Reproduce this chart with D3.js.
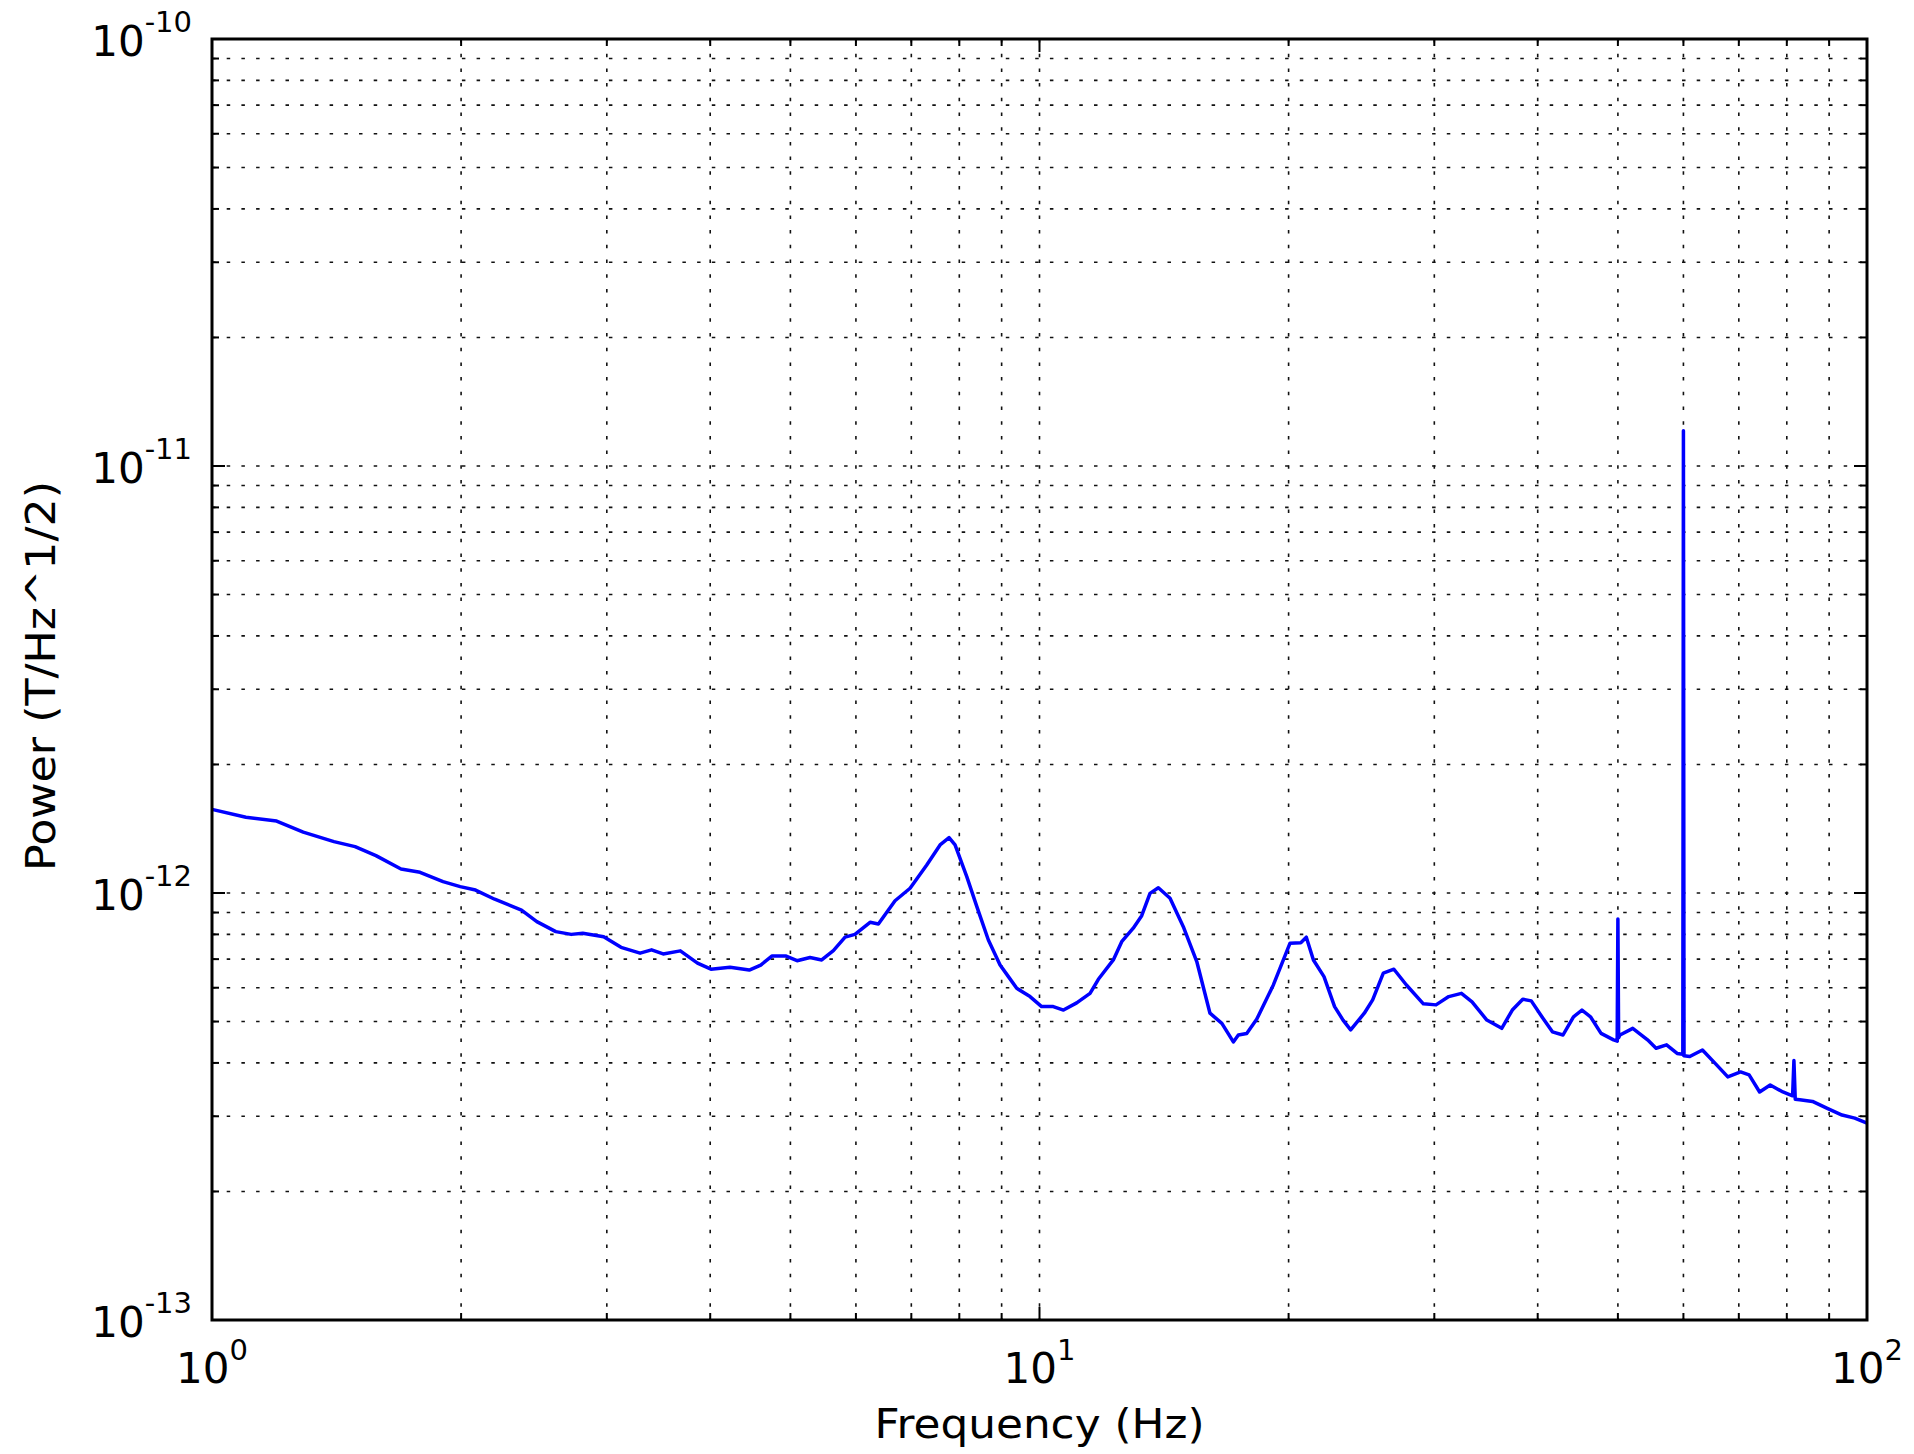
<!DOCTYPE html>
<html>
<head>
<meta charset="utf-8">
<script src="https://cdn.jsdelivr.net/npm/d3@7"></script>
<style>
  body { margin: 0; background: #fff; }
  text { font-family: 'DejaVu Sans', sans-serif; fill: #000; }
</style>
</head>
<body>
<svg id="chart" width="1914" height="1454"></svg>
<script>
// spectrum (Hz, T/Hz^1/2)
var freq = [
  1.000, 1.099, 1.197, 1.289, 1.404, 1.489, 1.578, 1.692, 1.784, 1.902,
  1.995, 2.082, 2.196, 2.366, 2.469, 2.603, 2.717, 2.806, 2.974, 3.121,
  3.291, 3.398, 3.509, 3.681, 3.861, 4.008, 4.227, 4.459, 4.604, 4.752,
  4.933, 5.093,
  5.281, 5.455, 5.635, 5.822, 5.984, 6.241, 6.387, 6.690, 6.976, 7.307,
  7.583, 7.775, 7.906, 8.168, 8.400, 8.674, 8.961, 9.171, 9.386, 9.740,
  10.06, 10.39, 10.69, 11.09, 11.51, 11.78, 12.28, 12.57, 12.98, 13.29,
  13.60, 13.92, 14.38, 14.92, 15.49, 16.07, 16.61, 17.15, 17.39, 17.80,
  18.30, 19.17, 20.08,
  20.69, 21.01, 21.43, 22.07, 22.73, 23.27, 23.77, 24.69, 25.27, 26.03,
  26.81, 27.76, 29.10, 30.14, 31.23, 32.35, 33.32, 34.72, 36.19, 37.27,
  38.37, 39.29, 40.47, 41.67, 42.92, 44.19, 45.24, 46.33, 47.71, 49.40,
  49.90, 50.00, 50.10, 50.29, 52.11, 54.30, 55.60, 57.25, 58.96, 59.90,
  60.00, 60.10, 61.07, 63.26, 65.54, 67.89, 70.35, 72.03, 74.17, 76.39,
  79.13, 81.30, 81.60, 81.90, 82.93, 85.93, 89.53, 93.29, 96.65, 100.0
];
var power = [
  1.570e-12, 1.504e-12, 1.474e-12, 1.389e-12, 1.319e-12, 1.284e-12, 1.223e-12, 1.138e-12, 1.118e-12, 1.063e-12,
  1.035e-12, 1.016e-12, 9.67e-13, 9.12e-13, 8.57e-13, 8.12e-13, 8.00e-13, 8.05e-13, 7.90e-13, 7.46e-13,
  7.23e-13, 7.36e-13, 7.20e-13, 7.32e-13, 6.85e-13, 6.63e-13, 6.70e-13, 6.60e-13, 6.78e-13, 7.12e-13,
  7.12e-13, 6.94e-13,
  7.06e-13, 6.97e-13, 7.33e-13, 7.88e-13, 8.00e-13, 8.54e-13, 8.46e-13, 9.59e-13, 1.026e-12, 1.163e-12,
  1.296e-12, 1.348e-12, 1.296e-12, 1.092e-12, 9.29e-13, 7.76e-13, 6.78e-13, 6.37e-13, 5.98e-13, 5.72e-13,
  5.42e-13, 5.42e-13, 5.32e-13, 5.53e-13, 5.82e-13, 6.28e-13, 6.97e-13, 7.69e-13, 8.27e-13, 8.85e-13,
  9.98e-13, 1.029e-12, 9.72e-13, 8.34e-13, 6.91e-13, 5.23e-13, 4.95e-13, 4.48e-13, 4.65e-13, 4.69e-13,
  5.06e-13, 6.09e-13, 7.63e-13,
  7.65e-13, 7.88e-13, 6.97e-13, 6.37e-13, 5.42e-13, 5.04e-13, 4.78e-13, 5.23e-13, 5.62e-13, 6.49e-13,
  6.63e-13, 6.09e-13, 5.50e-13, 5.47e-13, 5.72e-13, 5.82e-13, 5.56e-13, 5.04e-13, 4.82e-13, 5.32e-13,
  5.64e-13, 5.59e-13, 5.13e-13, 4.73e-13, 4.65e-13, 5.13e-13, 5.32e-13, 5.13e-13, 4.69e-13, 4.53e-13,
  4.50e-13, 8.69e-13, 4.58e-13, 4.65e-13, 4.82e-13, 4.53e-13, 4.33e-13, 4.41e-13, 4.21e-13, 4.19e-13,
  1.21e-11, 4.16e-13, 4.14e-13, 4.29e-13, 3.99e-13, 3.71e-13, 3.81e-13, 3.75e-13, 3.42e-13, 3.55e-13,
  3.42e-13, 3.35e-13, 4.05e-13, 3.29e-13, 3.28e-13, 3.25e-13, 3.13e-13, 3.02e-13, 2.97e-13, 2.89e-13
];

var xDomain = [1, 100];
var yDomain = [1e-13, 1e-10];
var xMajor = [1, 10, 100];
var xMajorExp = ['0', '1', '2'];
var yMajor = [1e-13, 1e-12, 1e-11, 1e-10];
var yMajorExp = ['-13', '-12', '-11', '-10'];
var xLabel = 'Frequency (Hz)';
var yLabel = 'Power (T/Hz^1/2)';

// plot box (window.top is read-only, so no bare "top" here)
var box = {left: 212, right: 1867, top: 39, bottom: 1320};

var svg = d3.select('#chart');

var x = d3.scaleLog().domain(xDomain).range([box.left, box.right]);
var y = d3.scaleLog().domain(yDomain).range([box.bottom, box.top]);

var xTicks = x.ticks();
var yTicks = y.ticks();

// dotted grid on every major and minor tick
var grid = svg.append('g').attr('class', 'grid');
grid.selectAll('line.gx')
  .data(xTicks.filter(function(d){ return d > xDomain[0] * 1.001 && d < xDomain[1] * 0.999; }))
  .enter().append('line')
  .attr('class', 'gx')
  .attr('x1', function(d){ return x(d); })
  .attr('x2', function(d){ return x(d); })
  .attr('y1', box.top)
  .attr('y2', box.bottom);
grid.selectAll('line.gy')
  .data(yTicks.filter(function(d){ return d > yDomain[0] * 1.001 && d < yDomain[1] * 0.999; }))
  .enter().append('line')
  .attr('class', 'gy')
  .attr('x1', box.left)
  .attr('x2', box.right)
  .attr('y1', function(d){ return y(d); })
  .attr('y2', function(d){ return y(d); });
grid.selectAll('line')
  .style('stroke', '#111')
  .style('stroke-width', 1.6)
  .style('stroke-dasharray', '3.5,11.2');

// spectrum line
var line = d3.line()
  .x(function(d){ return x(d[0]); })
  .y(function(d){ return y(d[1]); });

svg.append('path')
  .datum(d3.zip(freq, power))
  .attr('d', line)
  .style('fill', 'none')
  .style('stroke', '#0000ff')
  .style('stroke-width', 3.5)
  .style('stroke-linejoin', 'round');

// inward ticks on all four sides
function isMajor(d){
  var l = Math.log10(d);
  return Math.abs(l - Math.round(l)) < 1e-6;
}
function tickLen(d){ return isMajor(d) ? 13 : 7; }

var ticks = svg.append('g').attr('class', 'ticks');
xTicks.forEach(function(d){
  ticks.append('line').attr('x1', x(d)).attr('x2', x(d)).attr('y1', box.bottom).attr('y2', box.bottom - tickLen(d));
  ticks.append('line').attr('x1', x(d)).attr('x2', x(d)).attr('y1', box.top).attr('y2', box.top + tickLen(d));
});
yTicks.forEach(function(d){
  ticks.append('line').attr('x1', box.left).attr('x2', box.left + tickLen(d)).attr('y1', y(d)).attr('y2', y(d));
  ticks.append('line').attr('x1', box.right).attr('x2', box.right - tickLen(d)).attr('y1', y(d)).attr('y2', y(d));
});
ticks.selectAll('line')
  .style('stroke', '#000')
  .style('stroke-width', 2);

// frame
svg.append('rect')
  .attr('x', box.left)
  .attr('y', box.top)
  .attr('width', box.right - box.left)
  .attr('height', box.bottom - box.top)
  .style('fill', 'none')
  .style('stroke', '#000')
  .style('stroke-width', 3);

// tick labels as 10^n
var xl = svg.selectAll('text.xtick')
  .data(xMajor).enter()
  .append('text')
  .attr('class', 'xtick')
  .attr('x', function(d){ return x(d); })
  .attr('y', box.bottom + 63)
  .attr('text-anchor', 'middle')
  .style('font-size', '42px');
xl.append('tspan').text('10');
xl.append('tspan')
  .attr('dy', -23)
  .style('font-size', '29px')
  .text(function(d, i){ return xMajorExp[i]; });

var yl = svg.selectAll('text.ytick')
  .data(yMajor).enter()
  .append('text')
  .attr('class', 'ytick')
  .attr('x', box.left - 20)
  .attr('y', function(d){ return y(d) + 17; })
  .attr('text-anchor', 'end')
  .style('font-size', '42px');
yl.append('tspan').text('10');
yl.append('tspan')
  .attr('dy', -24)
  .style('font-size', '29px')
  .text(function(d, i){ return yMajorExp[i]; });

// axis titles, a little wider than plain DejaVu like the original
svg.append('text')
  .attr('x', (box.left + box.right) / 2)
  .attr('y', 1438)
  .attr('text-anchor', 'middle')
  .attr('textLength', 330)
  .attr('lengthAdjust', 'spacingAndGlyphs')
  .style('font-size', '40px')
  .text(xLabel);

svg.append('text')
  .attr('transform', 'translate(55,676) rotate(-90)')
  .attr('text-anchor', 'middle')
  .attr('textLength', 390)
  .attr('lengthAdjust', 'spacingAndGlyphs')
  .style('font-size', '40px')
  .text(yLabel);
</script>
</body>
</html>
